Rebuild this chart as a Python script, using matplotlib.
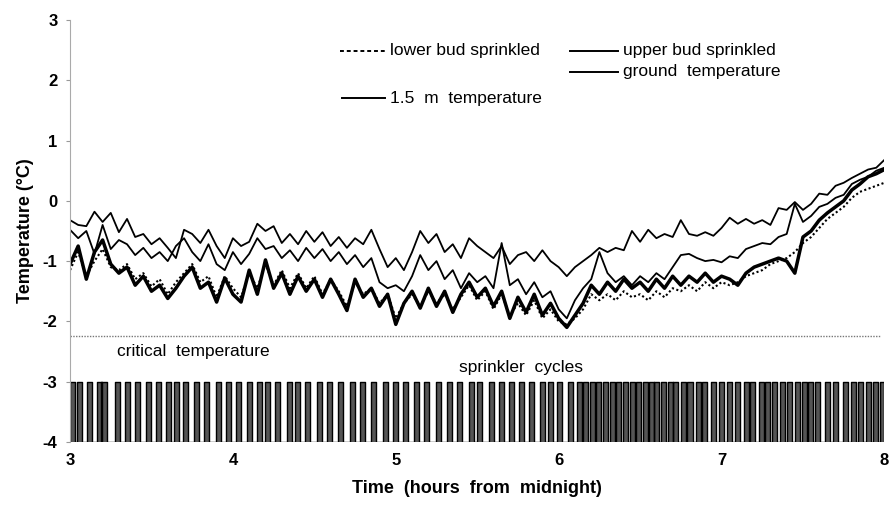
import numpy as np
import matplotlib
matplotlib.use("Agg")
import matplotlib.pyplot as plt

plt.rcParams['font.family'] = ['Liberation Sans', 'DejaVu Sans']
plt.rcParams['axes.unicode_minus'] = False

# time axis (hours from midnight), one reading every 3 minutes
hours = np.round(np.arange(3.0, 8.0001, 0.05), 2)

# 1.5 m air temperature (top thin trace)
air_15m = [-0.32, -0.40, -0.42, -0.18, -0.35, -0.20, -0.52, -0.30, -0.60, -0.55,
           -0.72, -0.62, -0.78, -0.95, -0.48, -0.55, -0.70, -0.48, -0.75, -0.95,
           -0.62, -0.75, -0.68, -0.38, -0.50, -0.42, -0.70, -0.55, -0.72, -0.50,
           -0.68, -0.52, -0.75, -0.60, -0.78, -0.62, -0.72, -0.48, -0.80, -1.10,
           -0.95, -1.15, -0.85, -0.50, -0.70, -0.55, -0.85, -0.72, -0.95, -0.62,
           -0.75, -0.85, -0.95, -0.75, -1.05, -0.90, -0.85, -1.00, -0.82, -1.00,
           -1.10, -1.25, -1.10, -1.00, -0.90, -0.78, -0.85, -0.78, -0.82, -0.50,
           -0.68, -0.48, -0.62, -0.55, -0.60, -0.32, -0.55, -0.58, -0.52, -0.58,
           -0.45, -0.28, -0.38, -0.30, -0.38, -0.32, -0.40, -0.12, -0.15, -0.02,
           -0.15, -0.05, 0.12, 0.10, 0.25, 0.30, 0.38, 0.45, 0.52, 0.55, 0.68]

# ground temperature (second thin trace)
ground = [-0.48, -0.62, -0.50, -0.88, -0.40, -0.80, -0.65, -0.72, -0.90, -0.78,
          -0.95, -0.85, -1.00, -0.75, -0.62, -0.85, -1.00, -0.72, -1.05, -1.15,
          -0.85, -1.05, -0.88, -0.62, -0.80, -0.75, -0.95, -0.82, -1.00, -0.78,
          -0.95, -0.80, -1.00, -0.85, -1.05, -0.90, -1.10, -0.95, -1.35, -1.45,
          -1.40, -1.50, -1.25, -0.90, -1.15, -1.00, -1.30, -1.15, -1.45, -1.20,
          -1.35, -1.25, -1.45, -0.70, -1.40, -1.30, -1.55, -1.35, -1.60, -1.50,
          -1.80, -1.95, -1.65, -1.45, -1.30, -0.85, -1.20, -1.35, -1.25, -1.40,
          -1.25, -1.35, -1.20, -1.30, -1.10, -0.90, -0.88, -0.95, -1.00, -0.98,
          -1.02, -0.92, -0.95, -0.80, -0.75, -0.70, -0.72, -0.60, -0.55, -0.05,
          -0.35, -0.25, -0.10, -0.05, 0.05, 0.10, 0.28, 0.35, 0.40, 0.50, 0.55]

# upper bud, sprinkled (heavy trace)
upper_bud = [-1.05, -0.75, -1.30, -0.85, -0.65, -1.05, -1.20, -1.10, -1.40, -1.25,
             -1.50, -1.40, -1.62, -1.45, -1.25, -1.10, -1.45, -1.35, -1.68, -1.28,
             -1.55, -1.68, -1.15, -1.55, -0.98, -1.45, -1.20, -1.55, -1.25, -1.50,
             -1.30, -1.60, -1.30, -1.55, -1.82, -1.30, -1.60, -1.45, -1.75, -1.55,
             -2.05, -1.70, -1.50, -1.78, -1.45, -1.75, -1.50, -1.85, -1.55, -1.35,
             -1.60, -1.45, -1.75, -1.50, -1.95, -1.60, -1.85, -1.55, -1.90, -1.70,
             -1.95, -2.10, -1.90, -1.70, -1.40, -1.55, -1.35, -1.50, -1.30, -1.45,
             -1.35, -1.50, -1.30, -1.45, -1.25, -1.40, -1.25, -1.35, -1.20, -1.35,
             -1.25, -1.30, -1.40, -1.20, -1.10, -1.05, -1.00, -0.95, -1.00, -1.20,
             -0.60, -0.50, -0.32, -0.20, -0.10, 0.00, 0.18, 0.28, 0.40, 0.45, 0.52]

# lower bud, sprinkled (dotted trace)
lower_bud = [-1.15, -0.85, -1.25, -1.00, -0.80, -1.10, -1.15, -1.05, -1.30, -1.20,
             -1.42, -1.30, -1.55, -1.35, -1.20, -1.05, -1.35, -1.25, -1.60, -1.25,
             -1.45, -1.60, -1.20, -1.45, -1.05, -1.40, -1.15, -1.45, -1.20, -1.45,
             -1.25, -1.55, -1.30, -1.50, -1.75, -1.35, -1.55, -1.45, -1.70, -1.55,
             -1.95, -1.70, -1.55, -1.75, -1.50, -1.70, -1.55, -1.80, -1.60, -1.40,
             -1.65, -1.50, -1.80, -1.55, -1.90, -1.70, -1.90, -1.65, -1.95, -1.80,
             -2.00, -2.05, -1.95, -1.80, -1.55, -1.65, -1.55, -1.65, -1.50, -1.60,
             -1.55, -1.65, -1.50, -1.60, -1.45, -1.50, -1.40, -1.50, -1.35, -1.45,
             -1.35, -1.40, -1.35, -1.25, -1.20, -1.15, -1.05, -1.00, -0.95, -0.85,
             -0.70, -0.60, -0.45, -0.30, -0.20, -0.10, 0.05, 0.15, 0.20, 0.25, 0.30]

critical_temp = -2.25

# sprinkler switch-on times (hours) and length of each spray pulse
sprinkler_on = [3.000, 3.041, 3.102, 3.163, 3.193, 3.274, 3.335, 3.396, 3.467, 3.528,
                3.589, 3.640, 3.691, 3.762, 3.823, 3.894, 3.955, 4.016, 4.087, 4.148,
                4.199, 4.260, 4.331, 4.382, 4.443, 4.514, 4.575, 4.646, 4.718, 4.779,
                4.849, 4.921, 4.982, 5.043, 5.114, 5.175, 5.246, 5.317, 5.378, 5.449,
                5.500, 5.571, 5.632, 5.693, 5.754, 5.815, 5.886, 5.937, 5.988, 6.059,
                6.110, 6.150, 6.190, 6.232, 6.273, 6.313, 6.354, 6.395, 6.435, 6.476,
                6.516, 6.557, 6.587, 6.628, 6.669, 6.699, 6.750, 6.791, 6.841, 6.882,
                6.933, 6.984, 7.035, 7.085, 7.136, 7.177, 7.227, 7.268, 7.309, 7.360,
                7.400, 7.451, 7.492, 7.532, 7.573, 7.634, 7.685, 7.746, 7.797, 7.837,
                7.888, 7.929, 7.970]
pulse_len = 0.031
spray_off, spray_on = -4, -3

# build the square wave for the sprinkler trace
wave_t = [3.0]
wave_y = [spray_off]
for t0 in sprinkler_on:
    t1 = min(t0 + pulse_len, 8.0)
    wave_t += [t0, t0, t1, t1]
    wave_y += [spray_off, spray_on, spray_on, spray_off]
wave_t.append(8.0)
wave_y.append(spray_off)

fig = plt.figure(figsize=(8.91, 5.15), dpi=100)
ax = fig.add_axes([0.0786, 0.142, 0.914, 0.819])

ax.plot(hours, air_15m, color='black', lw=1.3)
ax.plot(hours, ground, color='black', lw=1.3)
ax.plot(hours, lower_bud, color='black', lw=1.5, linestyle=(0, (1, 1.2)))
ax.plot(hours, upper_bud, color='black', lw=2.5)

ax.axhline(critical_temp, color='#777777', lw=1.0, linestyle=(0, (1, 1)), xmax=0.996)
ax.text(3.29, -2.5, 'critical  temperature', fontsize=12.5, va='center')

ax.fill_between(wave_t, wave_y, spray_off, color='#555555', lw=0)
ax.plot(wave_t, wave_y, color='black', lw=1.0)
ax.text(5.77, -2.77, 'sprinkler  cycles', fontsize=12.5, va='center', ha='center')

# legend drawn by hand to copy the staggered layout
def key(x0, x1, y, label, ls='-'):
    ax.plot([x0, x1], [y, y], transform=ax.transAxes, color='black', lw=1.4, ls=ls,
            clip_on=False)
    ax.text(x1 + 0.006, y, label, transform=ax.transAxes, fontsize=12.5, va='center')

key(0.331, 0.387, 0.927, 'lower bud sprinkled', ls=(0, (2, 1.5)))
key(0.614, 0.673, 0.927, 'upper bud sprinkled')
key(0.614, 0.673, 0.877, 'ground  temperature')
key(0.334, 0.387, 0.815, '1.5  m  temperature')

ax.set_xlim(3, 8)
ax.set_ylim(-4, 3)
ax.set_xticks([3, 4, 5, 6, 7, 8])
ax.set_yticks([-4, -3, -2, -1, 0, 1, 2, 3])
ax.tick_params(axis='x', length=0, pad=8, labelsize=12)
ax.tick_params(axis='y', length=3, width=0.8, color='#999999', labelsize=12, pad=6)
for lbl in ax.get_xticklabels() + ax.get_yticklabels():
    lbl.set_fontweight('bold')
for side in ['top', 'right', 'bottom']:
    ax.spines[side].set_visible(False)
ax.spines['left'].set_color('#aaaaaa')
ax.spines['left'].set_linewidth(0.8)

ax.set_xlabel('Time  (hours  from  midnight)', fontsize=13, fontweight='bold', labelpad=9)
ax.set_ylabel('Temperature (°C)', fontsize=13, fontweight='bold', labelpad=6)

fig.savefig('out.png', dpi=100)
